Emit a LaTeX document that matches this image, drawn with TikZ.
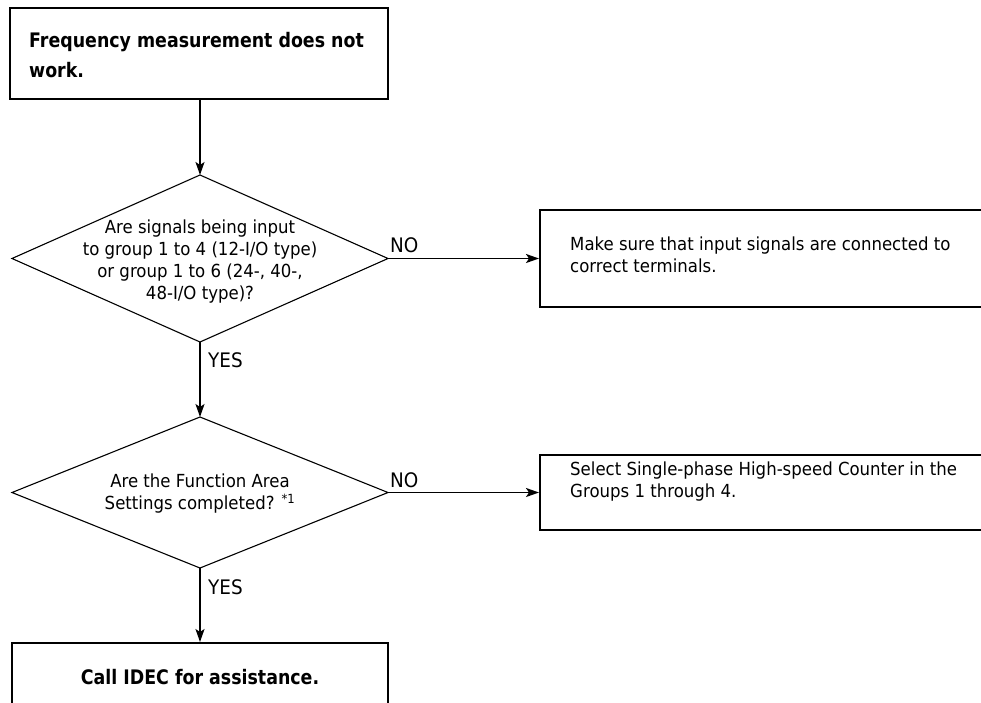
\documentclass[tikz,border=0pt]{standalone}
\usepackage{fontspec}
\setmainfont{DejaVu Sans}[FakeStretch=0.87]
\newfontfamily\regfont{DejaVu Sans}[FakeStretch=0.92]
\usetikzlibrary{shapes.geometric,arrows.meta}
\begin{document}
\begin{tikzpicture}[x=1pt,y=-1pt,
  boxshape/.style={draw, line width=2pt, rectangle, inner sep=0pt},
  decshape/.style={draw, line width=1.1pt, diamond, inner sep=0pt, outer sep=0pt},
  regtext/.style={inner sep=0pt, font=\regfont\fontsize{18}{22}\selectfont},
  boldtext/.style={inner sep=0pt, font=\fontsize{20}{30}\selectfont\bfseries},
  lbl/.style={inner sep=0pt, font=\regfont\fontsize{20}{22}\selectfont},
  conn/.style={line width=1.8pt, -{Stealth[length=13pt,width=9pt,inset=3pt]}}
]
\useasboundingbox (0,0) rectangle (981,702);
\clip (0,0) rectangle (981,702);

% start box
\node[boxshape, minimum width=378pt, minimum height=91pt] (start) at (199,53.5) {};
\node[boldtext, anchor=west, align=left] (starttxt) at (29,55) {Frequency measurement does not\\work.};

% decision 1
\node[decshape, minimum width=376pt, minimum height=167pt] (d1) at (200,258.5) {};
\node[regtext, align=center] (d1txt) at (200,262) {Are signals being input\\to group 1 to 4 (12-I/O type)\\or group 1 to 6 (24-, 40-,\\48-I/O type)?};

% box 2
\node[boxshape, minimum width=460pt, minimum height=97pt] (b2) at (770,258.5) {};
\node[regtext, anchor=west, align=left] (b2txt) at (570,255) {Make sure that input signals are connected to\\correct terminals.};

% decision 2
\node[decshape, minimum width=376pt, minimum height=151pt] (d2) at (200,492.5) {};
\node[regtext, align=center] (d2txt) at (200,494) {Are the Function Area\\Settings completed? \textsuperscript{*1}};

% box 3
\node[boxshape, minimum width=460pt, minimum height=75pt] (b3) at (770,492.5) {};
\node[regtext, anchor=west, align=left] (b3txt) at (570,481.5) {Select Single-phase High-speed Counter in the\\Groups 1 through 4.};

% final box
\node[boxshape, minimum width=376pt, minimum height=80pt] (fin) at (200,683) {};
\node[boldtext] (fintxt) at (200,677) {Call IDEC for assistance.};

% connectors
\draw[conn] (start.south -| d1.north) -- (d1.north);
\draw[conn] (d1.east) -- (b2.west);
\draw[conn] (d1.south) -- (d2.north);
\draw[conn] (d2.east) -- (b3.west);
\draw[conn] (d2.south) -- (fin.north);

% labels
\node[lbl, anchor=west] (no1) at (390,245) {NO};
\node[lbl, anchor=west] (yes1) at (208,360) {YES};
\node[lbl, anchor=west] (no2) at (390,480) {NO};
\node[lbl, anchor=west] (yes2) at (208,587) {YES};
\end{tikzpicture}
\end{document}
